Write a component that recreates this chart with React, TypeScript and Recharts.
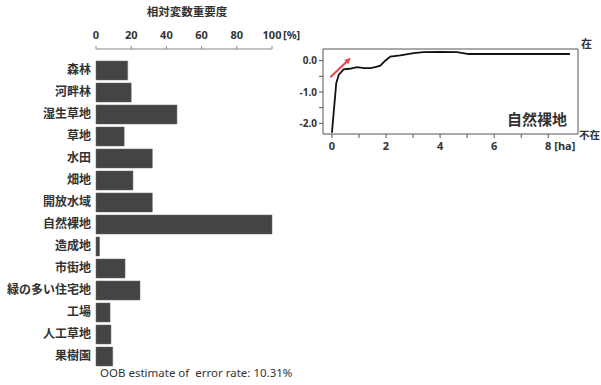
import React from 'react';
import { BarChart, Bar, XAxis, YAxis, LineChart, Line, ReferenceArea, ReferenceLine } from 'recharts';

const FONT = "'Noto Sans', 'Noto Sans CJK JP', sans-serif";
const TEXT = '#333';

// variable importance
const categories = ['森林', '河畔林', '湿生草地', '草地', '水田', '畑地', '開放水域', '自然裸地', '造成地', '市街地', '緑の多い住宅地', '工場', '人工草地', '果樹園'];
const importance = [18, 20, 46, 16, 32, 21, 32, 100, 2, 16.5, 25, 8, 8.5, 9.5];
const importanceTicks = [0, 20, 40, 60, 80, 100];

// partial dependence for 自然裸地
const areaHa = [0, 0.16, 0.25, 0.43, 0.65, 0.93, 1.2, 1.42, 1.6, 1.79, 1.95, 2.16, 2.53, 3.02, 3.39, 4.0, 4.63, 4.85, 5.06, 6, 7, 8.8];
const dependence = [-2.3, -0.72, -0.46, -0.28, -0.26, -0.21, -0.24, -0.24, -0.21, -0.16, -0.02, 0.13, 0.17, 0.24, 0.27, 0.28, 0.27, 0.24, 0.21, 0.21, 0.21, 0.21];
const haTicks = [0, 1, 2, 3, 4, 5, 6, 7, 8];
const depTicks = [-2, -1.5, -1, -0.5, 0];

const barData = categories.map((name, i) => ({ name, value: importance[i] }));
const lineData = areaHa.map((x, i) => ({ x, y: dependence[i] }));

const TopTick = (props: any) => {
  const { x, y, payload } = props;
  const v = payload.value;
  return (
    <g>
      <text x={x} y={y - 3} textAnchor="middle" fontSize={11} fontWeight="bold" fill={TEXT} fontFamily={FONT}>{v}</text>
      {v === 100 && <text x={x + 11} y={y - 3} textAnchor="start" fontSize={11} fontWeight="bold" fill={TEXT} fontFamily={FONT}>[%]</text>}
    </g>
  );
};

const HaTick = (props: any) => {
  const { x, y, payload } = props;
  const v = payload.value;
  if (v % 2 !== 0) return <g />;
  return (
    <g>
      <text x={x} y={y + 8} textAnchor="middle" fontSize={11} fontWeight="bold" fill={TEXT} fontFamily={FONT}>{v}</text>
      {v === 8 && <text x={x + 6} y={y + 8} textAnchor="start" fontSize={11} fontWeight="bold" fill={TEXT} fontFamily={FONT}>[ha]</text>}
    </g>
  );
};

const Arrow = (props: any) => {
  const { x1, y1, x2, y2 } = props;
  const ang = Math.atan2(y2 - y1, x2 - x1);
  const h = 7;
  const p1 = [x2 - h * Math.cos(ang - 0.45), y2 - h * Math.sin(ang - 0.45)];
  const p2 = [x2 - h * Math.cos(ang + 0.45), y2 - h * Math.sin(ang + 0.45)];
  return (
    <g>
      <line x1={x1} y1={y1} x2={x2 - 3 * Math.cos(ang)} y2={y2 - 3 * Math.sin(ang)} stroke="#e8474a" strokeWidth={2} />
      <polygon points={`${x2},${y2} ${p1[0]},${p1[1]} ${p2[0]},${p2[1]}`} fill="#e8474a" />
    </g>
  );
};

export default function App() {
  return (
    <div style={{ position: 'absolute', left: 0, top: 0, width: 601, height: 385, background: '#fff', fontFamily: FONT, color: TEXT }}>
      <div style={{ position: 'absolute', left: 187, top: 3, transform: 'translateX(-50%)', fontSize: 11.5, fontWeight: 'bold', whiteSpace: 'nowrap' }}>相対変数重要度</div>

      <div style={{ position: 'absolute', left: 0, top: 0 }}>
        <BarChart width={310} height={385} data={barData} layout="vertical" margin={{ top: 29, right: 38, bottom: 18, left: 0 }}>
          <XAxis type="number" orientation="top" domain={[0, 100]} ticks={importanceTicks} height={20}
            axisLine={{ stroke: '#888' }} tickLine={{ stroke: '#888' }} tickSize={3} tickMargin={4} tick={<TopTick />} />
          <YAxis type="category" dataKey="name" width={96} axisLine={false} tickLine={false} tickSize={0} tickMargin={5}
            padding={{ top: 10, bottom: 0 }} interval={0}
            tick={{ fontSize: 12, fontWeight: 'bold', fill: TEXT, fontFamily: FONT }} />
          <Bar dataKey="value" fill="#444" stroke="#666" strokeWidth={0.5} barSize={19} isAnimationActive={false} />
        </BarChart>
      </div>

      <div style={{ position: 'absolute', left: 100, top: 365, fontSize: 11.5, whiteSpace: 'pre' }}>OOB estimate of  error rate: 10.31%</div>

      <div style={{ position: 'absolute', left: 280, top: 0 }}>
        <LineChart width={321} height={170} data={lineData} margin={{ top: 49, right: 23, bottom: 16, left: 0 }}>
          <XAxis type="number" dataKey="x" domain={[-0.33, 9.1]} ticks={haTicks} allowDataOverflow height={20}
            axisLine={false} tickLine={{ stroke: '#555' }} tickSize={4} tickMargin={4} tick={<HaTick />} />
          <YAxis type="number" domain={[-2.34, 0.37]} ticks={depTicks} allowDataOverflow width={43}
            axisLine={false} tickLine={{ stroke: '#555' }} tickSize={4} tickMargin={2}
            tickFormatter={(v: number) => (Number.isInteger(v) ? v.toFixed(1) : '')}
            tick={{ fontSize: 10, fontWeight: 'bold', fill: TEXT, fontFamily: FONT }} />
          <ReferenceArea x1={-0.33} x2={9.1} y1={-2.34} y2={0.37} fill="none" stroke="#555" strokeWidth={1} ifOverflow="visible" />
          <ReferenceLine segment={[{ x: -0.06, y: -0.53 }, { x: 0.7, y: 0.09 }]} shape={<Arrow />} ifOverflow="visible" />
          <Line dataKey="y" type="linear" stroke="#111" strokeWidth={1.8} dot={false} isAnimationActive={false} />
        </LineChart>
      </div>

      <div style={{ position: 'absolute', left: 507, top: 108, fontSize: 15, fontWeight: 'bold', whiteSpace: 'nowrap' }}>自然裸地</div>
      <div style={{ position: 'absolute', left: 581, top: 35, fontSize: 11, fontWeight: 'bold' }}>在</div>
      <div style={{ position: 'absolute', left: 579, top: 127, fontSize: 10.5, fontWeight: 'bold', whiteSpace: 'nowrap' }}>不在</div>
    </div>
  );
}
